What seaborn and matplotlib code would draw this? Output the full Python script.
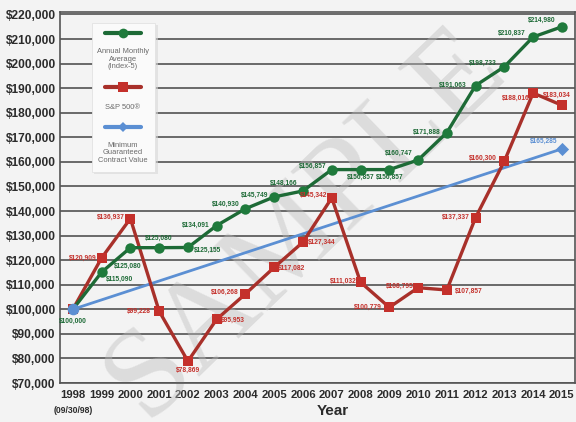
import numpy as np
import pandas as pd
import matplotlib
matplotlib.use("Agg")
import matplotlib.pyplot as plt
import seaborn as sns
from matplotlib.lines import Line2D
from matplotlib.patches import Rectangle
from matplotlib.ticker import FuncFormatter, MultipleLocator

# ---------------- data ----------------
years = list(range(1998, 2016))
index5 = [100000, 115090, 125080, 125080, 125155, 134091, 140930, 145749, 148166,
          156857, 156857, 156857, 160747, 171888, 191063, 198733, 210837, 214980]
sp500 = [100000, 120909, 136937, 99228, 78869, 95953, 106268, 117082, 127344,
         145342, 111032, 100779, 108795, 107857, 137337, 160300, 188016, 183034]
guar_years = [1998, 2015]
guar = [100000, 165285]
year_labels = [str(y) for y in years]
series_names = ["Annual Monthly\nAverage\n(Index-5)", "S&P 500\u00ae", "Minimum\nGuaranteed\nContract Value"]

# label placement (pixel offsets, alignment) - styling only
green_off = [(0, -12, 'center'), (4, -7, 'left'), (-3, -19, 'center'), (0, 9, 'center'),
             (6, -3, 'left'), (-7, 0, 'right'), (-6, 4, 'right'), (-6, 2, 'right'),
             (-5, 8, 'right'), (-5, 3, 'right'), (0, -8, 'center'), (0, -8, 'center'),
             (-5, 7, 'right'), (-6, 0, 'right'), (-9, 0, 'right'), (-8, 3, 'right'),
             (-7, 4, 'right'), (-6, 6, 'right')]
red_off = [None, (-5, 0, 'right'), (-6, 1, 'right'), (-8, 0, 'right'), (0, -9, 'center'),
           (4, -1, 'left'), (-7, 2, 'right'), (4, -1, 'left'), (5, 0, 'left'),
           (-4, 3, 'right'), (-4, 1, 'right'), (-7, 0, 'right'), (-4, 1, 'right'),
           (8, -1, 'left'), (-6, 0, 'right'), (-8, 3, 'right'), (-3, -5, 'right'),
           (-5, 10, 'center')]

GREEN_LINE = "#1d6a36"
GREEN_MK = "#1f7a3c"
RED_LINE = "#a8302a"
RED_MK = "#c4302b"
BLUE = "#5b8fd3"
BG = "#f3f3f3"
TXT = "#2b2b2b"

sns.set_theme(style="white")
plt.rcParams['font.family'] = ['Liberation Sans', 'DejaVu Sans']

fig = plt.figure(figsize=(5.76, 4.22), dpi=100, facecolor=BG)
ax = fig.add_axes([0.104, 0.0924, 0.894, 0.8792])
ax.set_facecolor(BG)

# watermark (between grid and data lines)
ax.text(0.53, 0.47, "SAMPLE", transform=fig.transFigure, rotation=44, fontsize=92,
        color="#bdbdbd", alpha=0.42, family="Liberation Serif", ha="center", va="center",
        zorder=2, clip_on=False)

# grid
ax.yaxis.set_major_locator(MultipleLocator(10000))
ax.grid(axis='y', color="#5e5e5e", linewidth=1.3, zorder=0)
ax.grid(axis='x', visible=False)
ax.set_axisbelow(True)

# series
sns.lineplot(x=guar_years, y=guar, ax=ax, color=BLUE, linewidth=2.0, zorder=3)
sns.lineplot(x=years, y=sp500, ax=ax, color=RED_LINE, linewidth=2.4, marker='s',
             markersize=7, markerfacecolor=RED_MK, markeredgewidth=0, zorder=4)
sns.lineplot(x=years, y=index5, ax=ax, color=GREEN_LINE, linewidth=2.4, marker='o',
             markersize=7.5, markerfacecolor=GREEN_MK, markeredgewidth=0, zorder=5)
sns.scatterplot(x=[guar_years[0]], y=[guar[0]], ax=ax, color=BLUE, marker='o', s=70,
                linewidth=0, zorder=6)
sns.scatterplot(x=[guar_years[-1]], y=[guar[-1]], ax=ax, color=BLUE, marker='D', s=45,
                linewidth=0, zorder=6)

# data labels
fs_lab = 4.8
for x, y, off in zip(years, index5, green_off):
    ax.annotate(f"${y:,}", (x, y), xytext=(off[0], off[1]), textcoords='offset pixels',
                ha=off[2], va='center', fontsize=fs_lab, color=GREEN_LINE, fontweight='bold',
                zorder=7)
for x, y, off in zip(years, sp500, red_off):
    if off is None:
        continue
    ax.annotate(f"${y:,}", (x, y), xytext=(off[0], off[1]), textcoords='offset pixels',
                ha=off[2], va='center', fontsize=fs_lab, color=RED_MK, fontweight='bold',
                zorder=7)
ax.annotate(f"${guar[-1]:,}", (guar_years[-1], guar[-1]), xytext=(-4, 8),
            textcoords='offset pixels', ha='right', va='center', fontsize=fs_lab,
            color=BLUE, fontweight='bold', zorder=7)

# axes
ax.set_xlim(1997.55, 2015.45)
ax.set_ylim(70000, 221000)
ax.set_xticks(years)
ax.set_xticklabels(year_labels)
ax.set_xticks([y + 0.5 for y in years[:-1]], minor=True)
ax.tick_params(axis='x', which='major', length=0, pad=5, labelsize=8.2, labelcolor=TXT)
ax.tick_params(axis='x', which='minor', length=6, width=1.0, color="#444444", direction='out')
ax.tick_params(axis='y', length=0, pad=3, labelsize=8.6, labelcolor=TXT)
for lab in ax.get_xticklabels() + ax.get_yticklabels():
    lab.set_fontweight('bold')
ax.yaxis.set_major_formatter(FuncFormatter(lambda v, p: f"${int(v):,}"))
ax.set_xlabel("")
ax.set_ylabel("")
for s in ['left', 'bottom', 'top', 'right']:
    ax.spines[s].set_color("#555555")
    ax.spines[s].set_linewidth(1.2)

fig.text(0.578, 0.026, "Year", ha='center', va='center', fontsize=11, fontweight='bold',
         color=TXT)
fig.text(0.127, 0.028, "(09/30/98)", ha='center', va='center', fontsize=6.2, fontweight='bold',
         color=TXT)

# legend box (manual, text under each symbol)
T = ax.transAxes
ax.add_patch(Rectangle((0.066, 0.563), 0.124, 0.402, transform=T, facecolor="#d8d8d8",
                       edgecolor='none', alpha=0.6, zorder=8))
ax.add_patch(Rectangle((0.062, 0.569), 0.122, 0.401, transform=T, facecolor="#fafafa",
                       edgecolor="#e2e2e2", linewidth=0.6, zorder=9))
leg_items = [(GREEN_LINE, GREEN_MK, 'o', 7, 0.943, 0.873),
             (RED_LINE, RED_MK, 's', 7, 0.798, 0.742),
             (BLUE, BLUE, 'D', 5.5, 0.690, 0.620)]
for (lc, mc, mk, ms, ym, yt), name in zip(leg_items, series_names):
    ax.add_line(Line2D([0.088, 0.157], [ym, ym], transform=T, color=lc, linewidth=3.0,
                       zorder=10))
    ax.add_line(Line2D([0.1225], [ym], transform=T, marker=mk, markersize=ms,
                       markerfacecolor=mc, markeredgewidth=0, linestyle='none', zorder=11))
    ax.text(0.1225, yt, name, transform=T, ha='center', va='center', fontsize=5.4,
            color="#6a6a6a", linespacing=1.15, zorder=11)

fig.savefig("out.png", dpi=100, facecolor=BG)
